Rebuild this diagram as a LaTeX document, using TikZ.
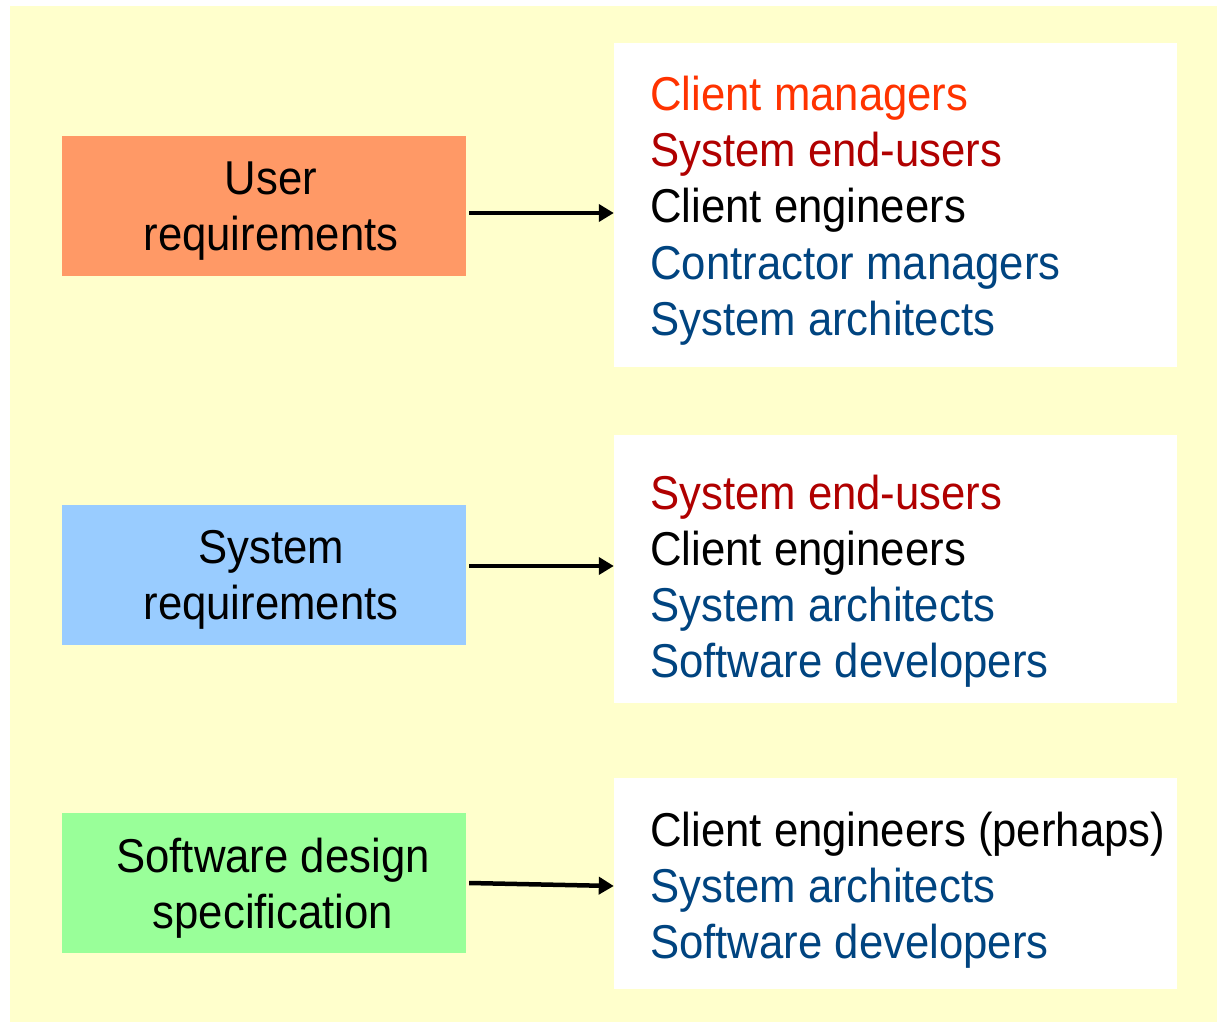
\documentclass[tikz,border=0pt]{standalone}
\usepackage{fontspec}
\setmainfont[FakeStretch=0.92]{Liberation Sans}
\usetikzlibrary{arrows.meta}
\definecolor{bgyellow}{HTML}{FFFFCC}
\definecolor{boxorange}{HTML}{FF9966}
\definecolor{boxblue}{HTML}{99CCFF}
\definecolor{boxgreen}{HTML}{99FF99}
\definecolor{cmgr}{HTML}{FF3300}
\definecolor{enduser}{HTML}{B00000}
\definecolor{navy}{HTML}{004480}
\tikzset{
  docbox/.style={draw=none, inner sep=0pt, minimum width=404pt, minimum height=140pt},
  whitebox/.style={fill=white, draw=none, inner sep=0pt, minimum width=563pt},
  boxtext/.style={inner sep=0pt, align=center, font=\fontsize{47.5}{56}\selectfont},
  item/.style={anchor=base west, inner sep=0pt, font=\fontsize{47.5}{56}\selectfont},
  arr/.style={line width=4.5pt, -{Triangle[length=15pt,width=17pt]}}
}
\begin{document}
\begin{tikzpicture}[x=1pt,y=-1pt]
\useasboundingbox (0,0) rectangle (1217,1024);
\fill[bgyellow] (10,6) rectangle (1217,1022);

% left boxes
\node[docbox, fill=boxorange] (ur) at (264,206) {};
\node[docbox, fill=boxblue] (sr) at (264,575) {};
\node[docbox, fill=boxgreen] (sd) at (264,883) {};
\node[boxtext] (urt) at (271,211) {User\\requirements};
\node[boxtext] (srt) at (271,580) {System\\requirements};
\node[boxtext] (sdt) at (273,888) {Software design\\specification};

% white boxes
\node[whitebox, minimum height=324pt] (w1) at (895.5,205) {};
\node[whitebox, minimum height=268pt] (w2) at (895.5,569) {};
\node[whitebox, minimum height=211pt] (w3) at (895.5,883.5) {};

% lists
\node[item, text=cmgr] (a1) at (650,111) {Client managers};
\node[item, text=enduser] (a2) at (650,167) {System end-users};
\node[item, text=black] (a3) at (650,223) {Client engineers};
\node[item, text=navy] (a4) at (650,279) {Contractor managers};
\node[item, text=navy] (a5) at (650,335) {System architects};

\node[item, text=enduser] (b1) at (650,509) {System end-users};
\node[item, text=black] (b2) at (650,565) {Client engineers};
\node[item, text=navy] (b3) at (650,621) {System architects};
\node[item, text=navy] (b4) at (650,677) {Software developers};

\node[item, text=black] (c1) at (650,846) {Client engineers (perhaps)};
\node[item, text=navy] (c2) at (650,902) {System architects};
\node[item, text=navy] (c3) at (650,958) {Software developers};

% arrows
\draw[arr] ([shift={(3,7)}]ur.east) -- ([shift={(0,7)}]ur.east -| w1.west);
\draw[arr] ([shift={(3,-9)}]sr.east) -- ([shift={(0,-9)}]sr.east -| w2.west);
\draw[arr] ([shift={(3,0)}]sd.east) -- ([shift={(0,3)}]sd.east -| w3.west);
\end{tikzpicture}
\end{document}
